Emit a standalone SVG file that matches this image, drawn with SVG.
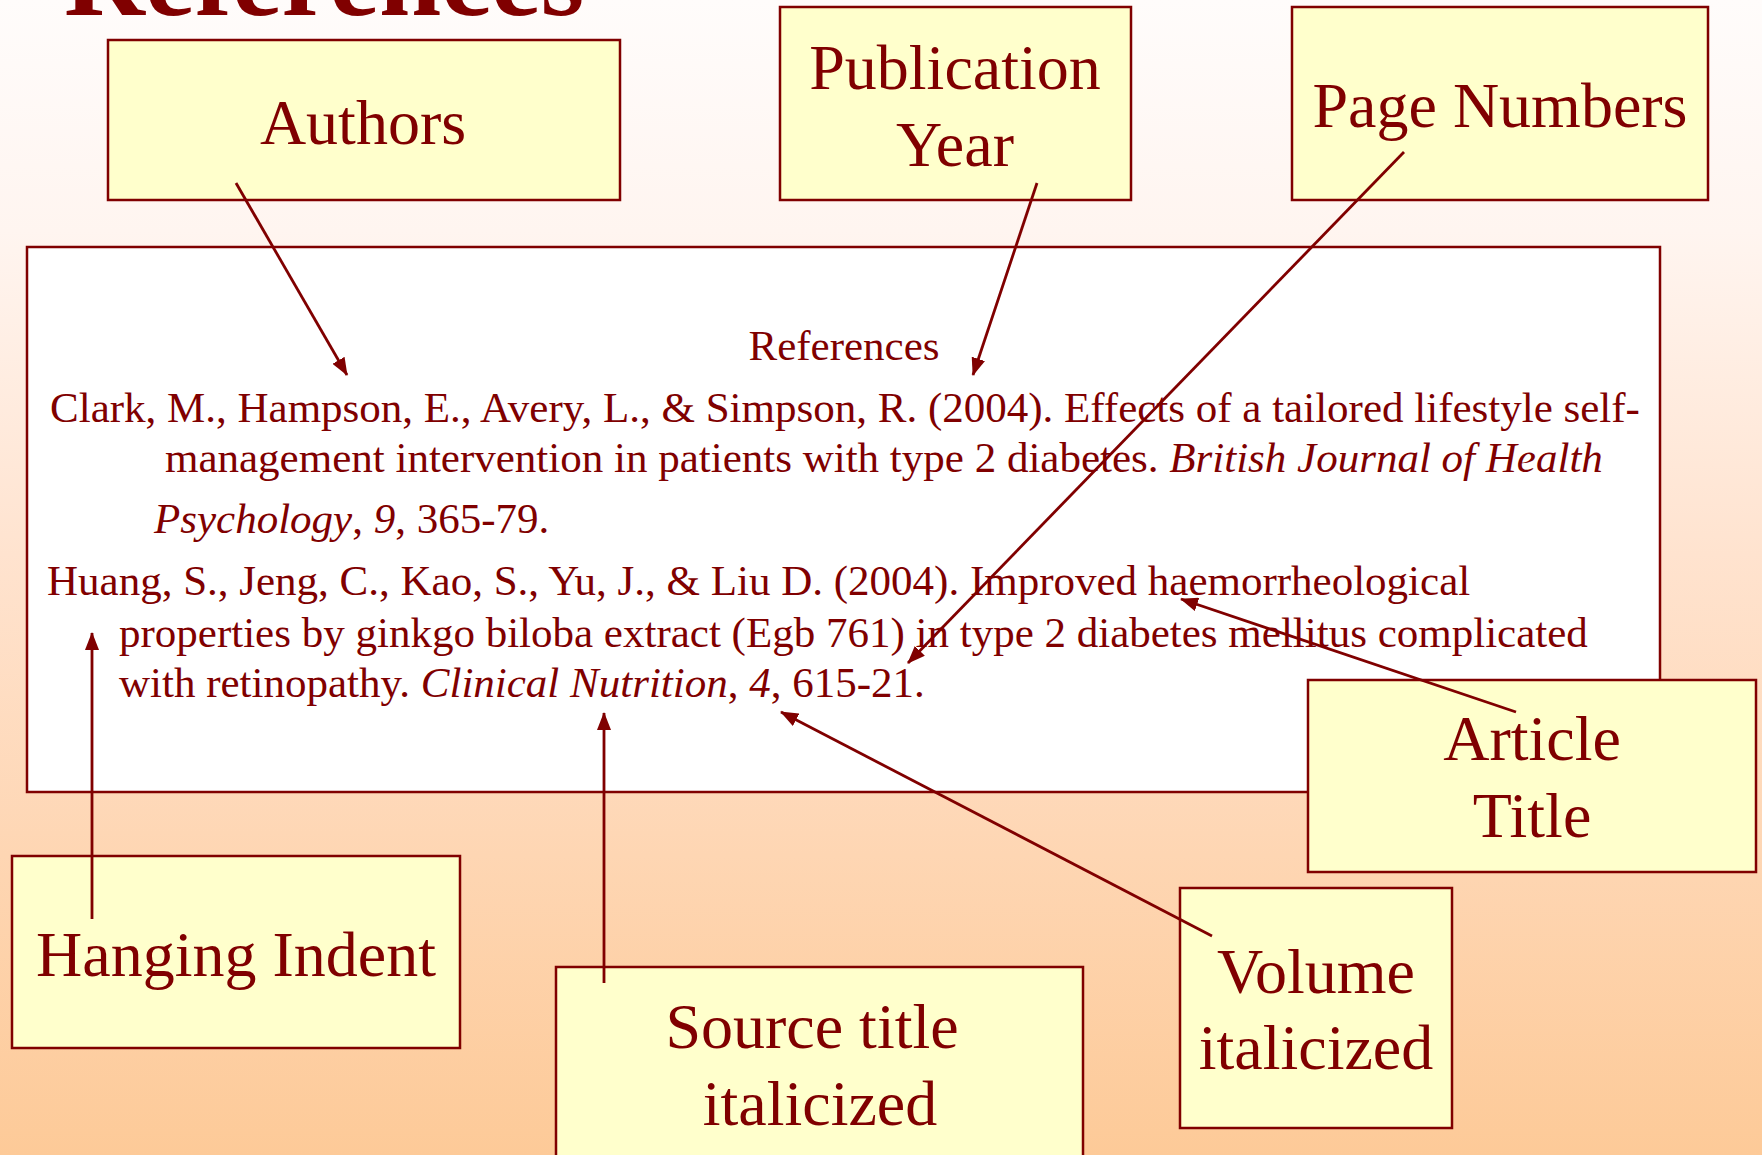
<svg xmlns="http://www.w3.org/2000/svg" width="1762" height="1155" viewBox="0 0 1762 1155">
<defs>
<linearGradient id="bg" x1="0" y1="0" x2="0" y2="1">
<stop offset="0" stop-color="#FFFCFB"/>
<stop offset="0.2" stop-color="#FFF5F0"/>
<stop offset="0.48" stop-color="#FFE3CF"/>
<stop offset="0.74" stop-color="#FED6B3"/>
<stop offset="1" stop-color="#FDCA98"/>
</linearGradient>
<marker id="arr" markerUnits="userSpaceOnUse" markerWidth="18" markerHeight="14" refX="17" refY="7" orient="auto">
<path d="M0,0 L18,7 L0,14 z" fill="#800000"/>
</marker>
<style>
text{font-family:"Liberation Serif","Times New Roman",serif;fill:#800000}
.lbl rect{fill:#FFFFCC;stroke:#800000;stroke-width:2.5}
.lbl text{font-size:64px;text-anchor:middle}
.ref{font-size:43px}
.it{font-style:italic}
#connectors line{stroke:#800000;stroke-width:2.8;marker-end:url(#arr)}
</style>
</defs>
<rect x="0" y="0" width="1762" height="1155" fill="url(#bg)"/>
<text x="64" y="15" font-size="112" font-weight="bold">References</text>

<g id="refbox">
<rect x="27" y="247" width="1633" height="545" fill="#FFFFFF" stroke="#800000" stroke-width="2.5"/>
<text class="ref" x="844" y="360" text-anchor="middle">References</text>
<text class="ref" x="50" y="422">Clark, M., Hampson, E., Avery, L., &amp; Simpson, R. (2004). Effects of a tailored lifestyle self-</text>
<text class="ref" x="165" y="472">management intervention in patients with type 2 diabetes. <tspan class="it">British Journal of Health</tspan></text>
<text class="ref" x="154" y="533"><tspan class="it">Psychology</tspan>, <tspan class="it">9</tspan>, 365-79.</text>
<text class="ref" x="47" y="595">Huang, S., Jeng, C., Kao, S., Yu, J., &amp; Liu D. (2004). Improved haemorrheological</text>
<text class="ref" x="119" y="647">properties by ginkgo biloba extract (Egb 761) in type 2 diabetes mellitus complicated</text>
<text class="ref" x="119" y="697">with retinopathy. <tspan class="it">Clinical Nutrition</tspan>, <tspan class="it">4</tspan>, 615-21.</text>
</g>

<g id="authors" class="lbl">
<rect x="108" y="40" width="512" height="160"/>
<text x="363" y="144">Authors</text>
</g>
<g id="pubyear" class="lbl">
<rect x="780" y="7" width="351" height="193"/>
<text x="955" y="89">Publication</text>
<text x="955" y="166">Year</text>
</g>
<g id="pagenumbers" class="lbl">
<rect x="1292" y="7" width="416" height="193"/>
<text x="1500" y="127">Page Numbers</text>
</g>
<g id="articletitle" class="lbl">
<rect x="1308" y="680" width="448" height="192"/>
<text x="1532" y="760">Article</text>
<text x="1532" y="837">Title</text>
</g>
<g id="volume" class="lbl">
<rect x="1180" y="888" width="272" height="240"/>
<text x="1316" y="993">Volume</text>
<text x="1316" y="1069">italicized</text>
</g>
<g id="hanging" class="lbl">
<rect x="12" y="856" width="448" height="192"/>
<text x="236" y="976">Hanging Indent</text>
</g>
<g id="sourcetitle" class="lbl">
<rect x="556" y="967" width="527" height="200"/>
<text x="812" y="1048">Source title</text>
<text x="820" y="1125">italicized</text>
</g>

<g id="connectors">
<line x1="236" y1="183" x2="347" y2="375"/>
<line x1="1037" y1="183" x2="973" y2="375"/>
<line x1="1404" y1="152" x2="908" y2="663"/>
<line x1="1516" y1="712" x2="1181" y2="599"/>
<line x1="1212" y1="936" x2="781" y2="712"/>
<line x1="604" y1="983" x2="604" y2="713"/>
<line x1="92" y1="919" x2="92" y2="633"/>
</g>
</svg>
